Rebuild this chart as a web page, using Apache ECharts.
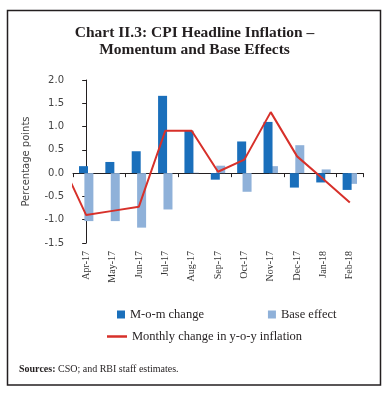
<!DOCTYPE html>
<html><head><meta charset="utf-8">
<script src="https://cdn.jsdelivr.net/npm/echarts@6/dist/echarts.min.js"></script>
<style>html,body{margin:0;padding:0;background:#fff}#c{width:389px;height:394px}</style>
</head><body><div id="c"></div>
<script>
const categories = ['Apr-17','May-17','Jun-17','Jul-17','Aug-17','Sep-17','Oct-17','Nov-17','Dec-17','Jan-18','Feb-18'];
const momChange = [0.15, 0.24, 0.47, 1.66, 0.91, -0.14, 0.68, 1.10, -0.31, -0.20, -0.36];
const baseEffect = [-1.03, -1.03, -1.17, -0.78, 0.01, 0.16, -0.40, 0.15, 0.60, 0.08, -0.23];
const yoyChangePrev = 0.31; // Mar-17, before the first category
const yoyChange = [-0.90, -0.81, -0.72, 0.91, 0.91, 0.03, 0.29, 1.31, 0.36, -0.13, -0.63];
const yTicks = [-1.5, -1.0, -0.5, 0.0, 0.5, 1.0, 1.5, 2.0];

const lineData = [[-1, yoyChangePrev]].concat(yoyChange.map((v, i) => [i, v]));
const serif = '"Liberation Serif", "DejaVu Serif", serif';
const sans = '"DejaVu Sans", Verdana, sans-serif';

const srcBold = 'Sources:';
const srcRest = ' CSO; and RBI staff estimates.';

const chart = echarts.init(document.getElementById('c'), null, {renderer: 'canvas'});
chart.setOption({
  animation: false,
  backgroundColor: '#fff',
  graphic: [{
    type: 'rect', shape: {x: 7.5, y: 10.5, width: 373, height: 374.5},
    style: {fill: 'none', stroke: '#231f20', lineWidth: 1.5}, silent: true
  }, {
    type: 'text', x: 19, y: 369, silent: true,
    style: {
      text: '{b|' + srcBold + '}{n|' + srcRest + '}',
      verticalAlign: 'middle', align: 'left',
      rich: {
        b: {fontFamily: 'Liberation Serif', fontSize: 10, fontWeight: 'bold', fill: '#231f20', lineHeight: 12},
        n: {fontFamily: 'Liberation Serif', fontSize: 10, fontWeight: 'normal', fill: '#231f20', lineHeight: 12}
      }
    }
  }],
  title: [{
    text: 'Chart II.3: CPI Headline Inflation –\nMomentum and Base Effects',
    left: 'center', top: 19,
    textStyle: {fontFamily: serif, fontWeight: 'bold', fontSize: 15.5, color: '#231f20', lineHeight: 17}
  }],
  legend: [{
    data: ['M-o-m change', 'Base effect'],
    left: 112, top: 303, itemWidth: 8, itemHeight: 8, itemGap: 64,
    icon: 'rect',
    textStyle: {fontFamily: serif, fontSize: 12.5, color: '#231f20'}
  }, {
    data: [{name: 'Monthly change in y-o-y inflation', icon: 'rect'}],
    left: 102, top: 325, itemWidth: 20, itemHeight: 2.5, itemGap: 6,
    textStyle: {fontFamily: serif, fontSize: 12.5, color: '#231f20'}
  }],
  grid: {left: 73, right: 26, top: 80, bottom: 151, containLabel: false},
  xAxis: [{
    type: 'category', data: categories, position: 'bottom',
    axisLine: {onZero: true, lineStyle: {color: '#231f20', width: 1}},
    axisTick: {show: true, length: 4, lineStyle: {color: '#231f20'}},
    axisLabel: {show: false}, splitLine: {show: false}
  }, {
    type: 'category', data: categories, position: 'bottom', gridIndex: 0,
    axisLine: {show: false, onZero: false}, axisTick: {show: false},
    axisLabel: {show: true, rotate: 90, margin: 8, fontFamily: serif, fontSize: 10, color: '#333'}
  }, {
    type: 'value', min: -0.5, max: 10.5, show: false
  }],
  yAxis: {
    type: 'value', min: -1.5, max: 2.0, interval: 0.5,
    name: 'Percentage points', nameLocation: 'middle', nameGap: 42,
    nameTextStyle: {fontFamily: sans, fontSize: 10, color: '#444'},
    axisLine: {show: true, lineStyle: {color: '#231f20'}},
    axisTick: {show: true, length: 4, lineStyle: {color: '#231f20'}},
    axisLabel: {margin: 9, fontFamily: sans, fontSize: 10, color: '#444',
      formatter: v => yTicks.includes(+v.toFixed(1)) ? v.toFixed(1) : ''},
    splitLine: {show: false}
  },
  series: [{
    name: 'M-o-m change', type: 'bar', xAxisIndex: 0, data: momChange,
    barWidth: 9, barGap: '-40%', itemStyle: {color: '#1a6fbb'}, z: 3
  }, {
    name: 'Base effect', type: 'bar', xAxisIndex: 0, data: baseEffect,
    barWidth: 9, itemStyle: {color: '#8fb1d9'}, z: 2
  }, {
    name: 'Monthly change in y-o-y inflation', type: 'line', xAxisIndex: 2, data: lineData,
    showSymbol: false, symbol: 'none', clip: true,
    lineStyle: {color: '#d7302a', width: 2}, itemStyle: {color: '#d7302a'}, z: 4
  }]
});
</script></body></html>
